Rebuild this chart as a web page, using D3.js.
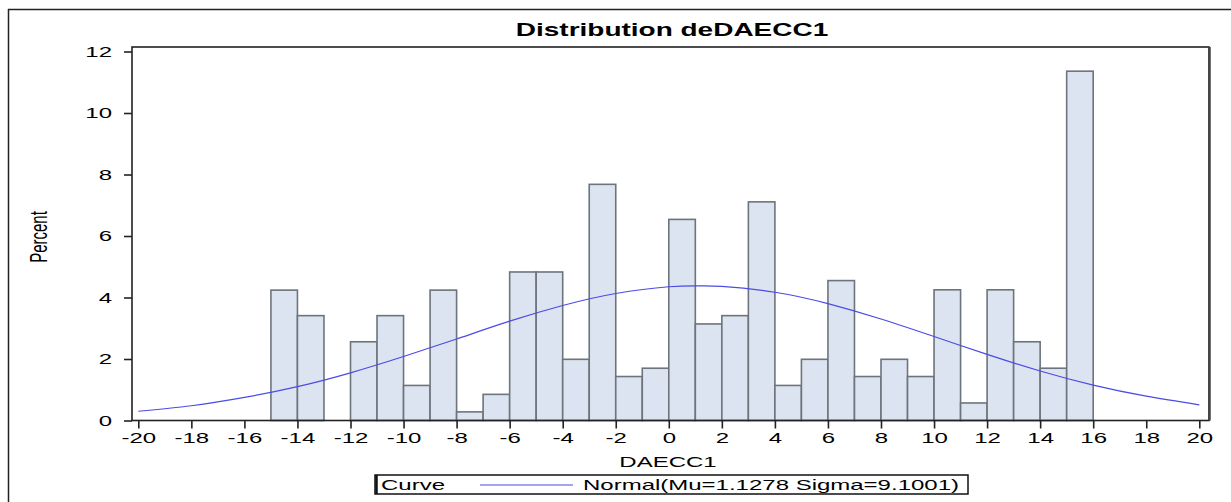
<!DOCTYPE html>
<html>
<head>
<meta charset="utf-8">
<script src="https://d3js.org/d3.v7.min.js"></script>
<style>
  body { margin: 0; background: #fff; }
  text { font-family: "Liberation Sans", Arial, sans-serif; fill: #000; }
</style>
</head>
<body>
<div id="viz"></div>
<script>
// histogram bins (left edge, width 1) and percent values
var binStarts = [-15,-14,-13,-12,-11,-10,-9,-8,-7,-6,-5,-4,-3,-2,-1,0,1,2,3,4,5,6,7,8,9,10,11,12,13,14,15];
var percents  = [4.24,3.41,0,2.56,3.41,1.14,4.24,0.28,0.85,4.83,4.83,1.99,7.68,1.43,1.70,6.54,3.14,3.41,7.11,1.14,1.99,4.55,1.43,1.99,1.43,4.25,0.57,4.25,2.56,1.70,11.36];

// normal curve at every 2 units
var curveX = [-20,-18,-16,-14,-12,-10,-8,-6,-4,-2,0,1.13,2,4,6,8,10,12,14,16,18,20];
var curveY = [0.30,0.48,0.75,1.10,1.55,2.08,2.65,3.23,3.74,4.13,4.35,4.38,4.36,4.17,3.80,3.30,2.73,2.15,1.61,1.15,0.79,0.51];

var xTicks = d3.range(-20, 21, 2);
var yTicks = [0,2,4,6,8,10,12];

var title = "Distribution deDAECC1";
var xLabel = "DAECC1";
var yLabel = "Percent";
var legendTitle = "Curve";
var legendText = "Normal(Mu=1.1278 Sigma=9.1001)";

var W = 1231, H = 502;
var SX = 1.6; // picture is stretched sideways
var plotL = 132, plotR = 1209, plotT = 47, plotB = 420.5;

var svg = d3.select("#viz").append("svg")
    .attr("width", W).attr("height", H);

// outer border remnants
svg.append("line").attr("x1", 8.5).attr("x2", 8.5).attr("y1", 9).attr("y2", H)
    .attr("stroke", "#222").attr("stroke-width", 1.5);
svg.append("line").attr("x1", 8).attr("x2", W).attr("y1", 9.5).attr("y2", 9.5)
    .attr("stroke", "#222").attr("stroke-width", 1.5);

var x = d3.scaleLinear().domain([-20, 20]).range([138.3, 1199.3]);
var y = d3.scaleLinear().domain([0, 12]).range([plotB, 51.5]);

// bars
svg.append("g").selectAll("rect")
    .data(binStarts.map(function(b, i) { return {b: b, v: percents[i]}; }).filter(function(d) { return d.v > 0; }))
    .enter().append("rect")
    .attr("x", function(d) { return x(d.b); })
    .attr("width", function(d) { return x(d.b + 1) - x(d.b); })
    .attr("y", function(d) { return y(d.v); })
    .attr("height", function(d) { return y(0) - y(d.v); })
    .attr("fill", "#dbe4f0")
    .attr("stroke", "#6d747b")
    .attr("stroke-width", 1.6);

// normal curve
var line = d3.line()
    .x(function(d) { return x(d[0]); })
    .y(function(d) { return y(d[1]); })
    .curve(d3.curveNatural);
svg.append("path")
    .datum(curveX.map(function(v, i) { return [v, curveY[i]]; }))
    .attr("d", line)
    .attr("fill", "none")
    .attr("stroke", "#4b4be6")
    .attr("stroke-width", 1.2);

// frame
svg.append("rect")
    .attr("x", plotL).attr("y", plotT)
    .attr("width", plotR - plotL).attr("height", plotB - plotT)
    .attr("fill", "none").attr("stroke", "#222").attr("stroke-width", 1.6);
svg.append("line").attr("x1", plotR + 0.5).attr("x2", plotR + 0.5).attr("y1", plotT).attr("y2", plotB)
    .attr("stroke", "#444").attr("stroke-width", 2.5);

// x axis
var gx = svg.append("g")
    .attr("transform", "translate(0," + plotB + ")")
    .call(d3.axisBottom(x).tickValues(xTicks).tickSize(8).tickPadding(4)
        .tickFormat(function(d) { return String(d); }));
gx.select(".domain").remove();
gx.selectAll(".tick line").attr("stroke", "#222").attr("stroke-width", 1.6);
gx.selectAll(".tick text")
    .attr("font-size", 15).attr("font-family", "Liberation Sans, Arial, sans-serif")
    .attr("fill", "#111")
    .attr("transform", "scale(" + SX + ",1)");

// y axis
var gy = svg.append("g")
    .attr("transform", "translate(" + plotL + ",0)")
    .call(d3.axisLeft(y).tickValues(yTicks).tickSize(8).tickPadding(11)
        .tickFormat(function(d) { return String(d); }));
gy.select(".domain").remove();
gy.selectAll(".tick line").attr("stroke", "#222").attr("stroke-width", 1.6);
gy.selectAll(".tick text")
    .attr("font-size", 15).attr("font-family", "Liberation Sans, Arial, sans-serif")
    .attr("fill", "#111")
    .attr("x", -20 / SX)
    .attr("transform", "scale(" + SX + ",1)");

// title and labels
svg.append("text")
    .attr("transform", "translate(672,36) scale(" + SX + ",1)")
    .attr("text-anchor", "middle").attr("font-size", 17.5).attr("font-weight", "bold")
    .text(title);
svg.append("text")
    .attr("transform", "translate(668,467) scale(" + SX + ",1)")
    .attr("text-anchor", "middle").attr("font-size", 15)
    .text(xLabel);
svg.append("text")
    .attr("transform", "translate(47,237) scale(" + SX + ",1) rotate(-90)")
    .attr("text-anchor", "middle").attr("font-size", 15)
    .text(yLabel);

// legend
var lg = svg.append("g");
lg.append("rect").attr("x", 375).attr("y", 475).attr("width", 593).attr("height", 19)
    .attr("fill", "#fff").attr("stroke", "#111").attr("stroke-width", 1.5);
lg.append("line").attr("x1", 376.5).attr("x2", 376.5).attr("y1", 475).attr("y2", 494)
    .attr("stroke", "#111").attr("stroke-width", 2.5);
lg.append("text")
    .attr("transform", "translate(381,490) scale(" + SX + ",1)")
    .attr("font-size", 15).text(legendTitle);
lg.append("line").attr("x1", 480).attr("x2", 573).attr("y1", 485).attr("y2", 485)
    .attr("stroke", "#4b4be6").attr("stroke-width", 1.2);
lg.append("text")
    .attr("transform", "translate(583,490) scale(" + SX + ",1)")
    .attr("font-size", 15).text(legendText);
</script>
</body>
</html>
